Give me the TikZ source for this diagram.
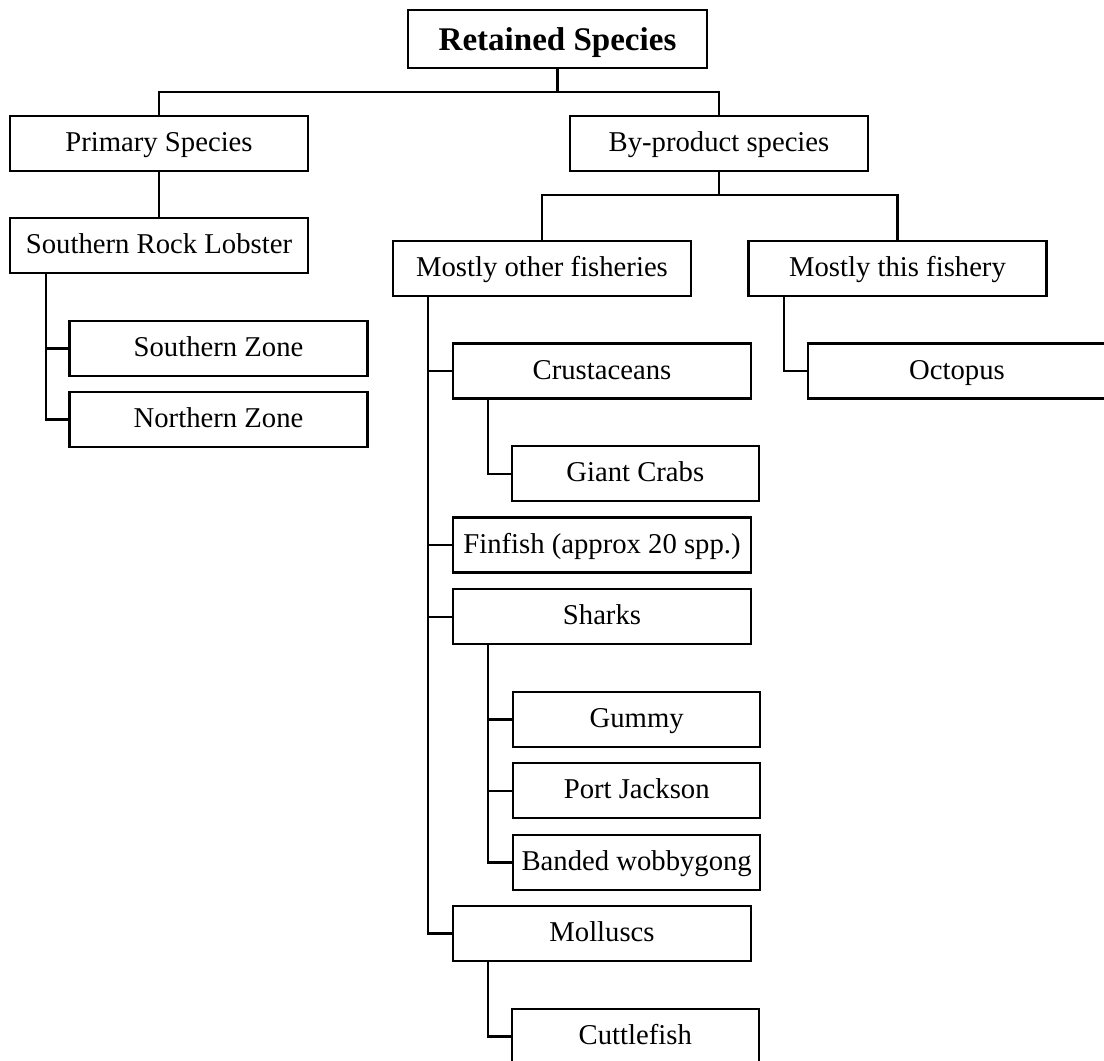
\documentclass[tikz,border=0pt]{standalone}
\usepackage{fontspec}
\setmainfont{Liberation Serif}
\begin{document}
\begin{tikzpicture}[x=0.025cm, y=-0.025cm, line width=1.5pt,
    sbox/.style={draw, line width=1.5pt, minimum width=7.45cm, minimum height=1.375cm, inner sep=0pt,
      text height=0.6cm, text depth=0.19cm, font={\fontsize{20.4}{24}\selectfont}},
    leaf/.style={sbox, minimum width=6.17cm}]
  \useasboundingbox (0,0) rectangle (1104,1060);
  \clip (0,0) rectangle (1104,1060);
  % root
  \node[sbox, minimum width=7.475cm, minimum height=1.45cm, text height=0.7cm, text depth=0.15cm,
    font={\fontsize{23.5}{28}\selectfont\bfseries}] (ret) at (557.5,39) {Retained Species};
  % primary branch
  \node[sbox] (prim) at (159,143.5) {Primary Species};
  \node[sbox] (srl) at (159,245.5) {Southern Rock Lobster};
  \node[sbox] (sz) at (218.5,348.5) {Southern Zone};
  \node[sbox] (nz) at (218.5,419.5) {Northern Zone};
  % by-product branch
  \node[sbox] (byp) at (719,143.5) {By-product species};
  \node[sbox] (mof) at (542,268.5) {Mostly other fisheries};
  \node[sbox] (mtf) at (897.5,268.5) {Mostly this fishery};
  \node[sbox] (oct) at (957,371) {Octopus};
  \node[sbox] (cru) at (602,371) {Crustaceans};
  \node[leaf] (gc) at (635.3,473.7) {Giant Crabs};
  \node[sbox] (fin) at (602,545) {Finfish (approx 20 spp.)};
  \node[sbox] (shk) at (602,616.7) {Sharks};
  \node[leaf] (gum) at (636.7,719.5) {Gummy};
  \node[leaf] (pj) at (636.7,790.7) {Port Jackson};
  \node[leaf] (bw) at (636.7,862.5) {Banded wobbygong};
  \node[sbox] (mol) at (602,933.5) {Molluscs};
  \node[leaf] (cut) at (635.3,1036.5) {Cuttlefish};
  % buses
  \coordinate (top) at (557.5,92);
  \draw (ret.south) -- (top);
  \draw (prim.north) |- (top) -| (byp.north);
  \draw (prim) -- (srl);
  \coordinate (mid) at (719,195);
  \draw (byp.south) -- (mid);
  \draw (mof.north) |- (mid) -| (mtf.north);
  % elbow links
  \foreach \c in {sz,nz} \draw ([xshift=0.92cm]srl.south west) |- (\c.west);
  \foreach \c in {cru,fin,shk,mol} \draw ([xshift=0.91cm]mof.south west) |- (\c.west);
  \draw ([xshift=0.91cm]cru.south west) |- (gc.west);
  \draw ([xshift=0.925cm]mtf.south west) |- (oct.west);
  \foreach \c in {gum,pj,bw} \draw ([xshift=0.91cm]shk.south west) |- (\c.west);
  \draw ([xshift=0.91cm]mol.south west) |- (cut.west);
\end{tikzpicture}
\end{document}
